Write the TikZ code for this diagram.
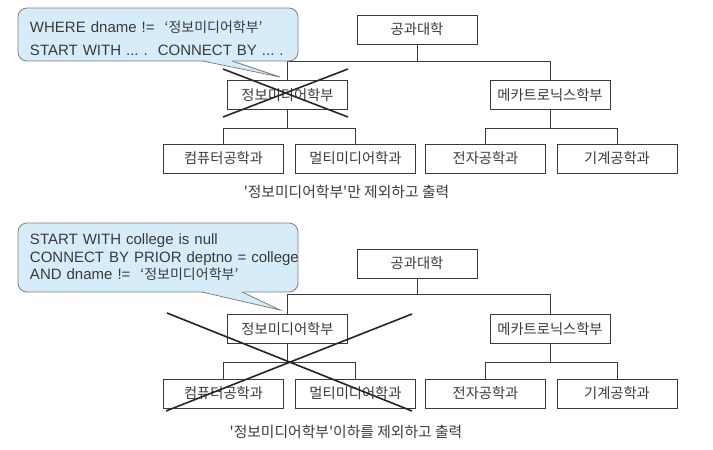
\documentclass[tikz,border=0pt]{standalone}
\usepackage{fontspec}
\setmainfont{Liberation Sans}
\newfontfamily\krfont{Noto Sans CJK KR}
\usetikzlibrary{positioning}
\definecolor{balloonblue}{RGB}{214,237,249}
\definecolor{inkgray}{RGB}{58,58,58}
\newcommand{\kr}[1]{{\krfont\fontsize{14}{14}\selectfont #1}}

\begin{document}
\begin{tikzpicture}[x=1pt, y=-1pt,
    deptbox/.style={rectangle, draw=inkgray, line width=0.9pt, minimum width=120pt, minimum height=29pt, inner sep=0pt, text=inkgray, font=\krfont\fontsize{14.3}{16}\selectfont},
    balloon/.style={rectangle, rounded corners=9pt, draw=gray, line width=0.8pt, fill=balloonblue, minimum width=280pt, align=left, text width=256pt, inner xsep=12pt, text=inkgray},
    treeline/.style={draw=inkgray, line width=0.9pt},
    crossline/.style={draw=black!85, line width=1.6pt},
    caption/.style={text=inkgray, font=\krfont\fontsize{14.8}{16}\selectfont}]
    \useasboundingbox (0,0) rectangle (713,450);

    % upper tree: only the one department left out
    \node [deptbox] at (417, 29.5)   (rootA)  {공과대학};
    \node [deptbox] at (287.5, 95)   (infoA)  {정보미디어학부};
    \node [deptbox] at (550, 95)     (mechaA) {메카트로닉스학부};
    \node [deptbox] at (223.5, 158.5) (compA) {컴퓨터공학과};
    \node [deptbox] at (355.5, 158.5) (multiA) {멀티미디어학과};
    \node [deptbox] at (485.5, 158.5) (elecA) {전자공학과};
    \node [deptbox] at (617, 158.5)  (machA)  {기계공학과};
    \draw [treeline] (rootA.south) -- ++(0,17) -| (infoA.north);
    \draw [treeline] (rootA.south) -- ++(0,17) -| (mechaA.north);
    \draw [treeline] (infoA.south) -- ++(0,18) -| (compA.north);
    \draw [treeline] (infoA.south) -- ++(0,18) -| (multiA.north);
    \draw [treeline] (mechaA.south) -- ++(0,18) -| (elecA.north);
    \draw [treeline] (mechaA.south) -- ++(0,18) -| (machA.north);
    \draw [crossline] (223,69) -- (348,117) (223,117) -- (348,69);
    \node [caption] at (346.5,192) (capA) {'정보미디어학부'만 제외하고 출력};

    \node [balloon, minimum height=53pt, font=\fontsize{15}{23}\selectfont\frenchspacing] at (158,34.5) (whereNote)
        {\mbox{\rule{0pt}{19pt}WHERE dname != \ \kr{‘정보미디어학부’}}\\\mbox{START WITH ... . \ CONNECT BY ... .}};
    \coordinate (whereTip) at (280,77);
    \fill [balloonblue] (203,60.2) -- (whereTip) -- (232,60.2) -- cycle;
    \draw [gray, line width=0.8pt] (203,61) -- (whereTip) -- (232,61);

    % lower tree: the department and everything under it left out
    \node [deptbox] at (417, 263.5)  (rootB)  {공과대학};
    \node [deptbox] at (287.5, 329)  (infoB)  {정보미디어학부};
    \node [deptbox] at (550, 329)    (mechaB) {메카트로닉스학부};
    \node [deptbox] at (223.5, 393.5) (compB) {컴퓨터공학과};
    \node [deptbox] at (355.5, 393.5) (multiB) {멀티미디어학과};
    \node [deptbox] at (485.5, 393.5) (elecB) {전자공학과};
    \node [deptbox] at (617, 393.5)  (machB)  {기계공학과};
    \draw [treeline] (rootB.south) -- ++(0,16) -| (infoB.north);
    \draw [treeline] (rootB.south) -- ++(0,16) -| (mechaB.north);
    \draw [treeline] (infoB.south) -- ++(0,18) -| (compB.north);
    \draw [treeline] (infoB.south) -- ++(0,18) -| (multiB.north);
    \draw [treeline] (mechaB.south) -- ++(0,18) -| (elecB.north);
    \draw [treeline] (mechaB.south) -- ++(0,18) -| (machB.north);
    \draw [crossline] (167,313) -- (412,411) (166,411) -- (412,314);
    \node [caption] at (346,432) (capB) {'정보미디어학부'이하를 제외하고 출력};

    \node [balloon, minimum height=69pt, font=\fontsize{15}{17.5}\selectfont\frenchspacing] at (158,257.5) (priorNote)
        {\mbox{START WITH college is null}\\\mbox{CONNECT BY PRIOR deptno = college}\\\mbox{AND dname != \ \kr{‘정보미디어학부’}}};
    \coordinate (priorTip) at (280,310);
    \fill [balloonblue] (202,291.2) -- (priorTip) -- (242,291.2) -- cycle;
    \draw [gray, line width=0.8pt] (202,292) -- (priorTip) -- (242,292);
\end{tikzpicture}
\end{document}
